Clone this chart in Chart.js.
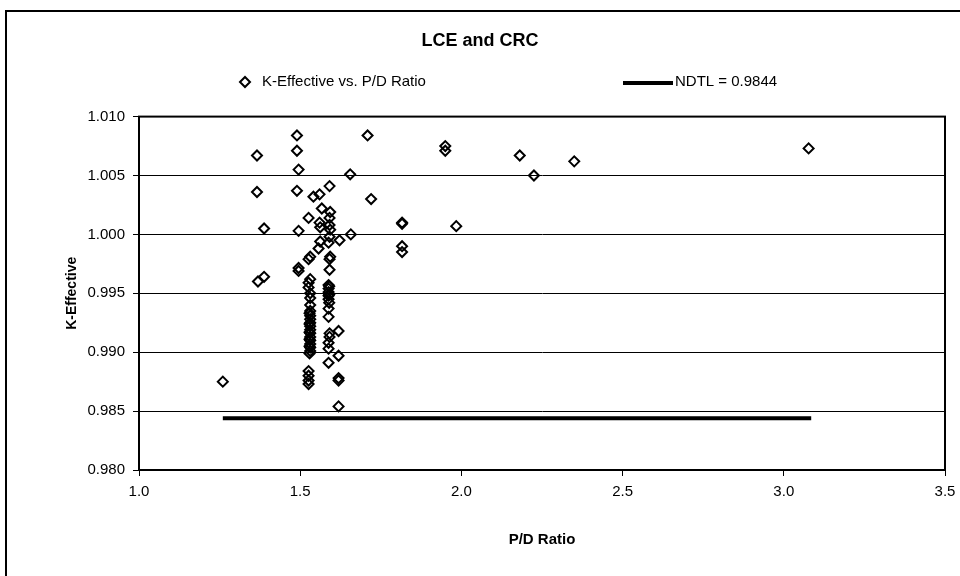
<!DOCTYPE html>
<html>
<head>
<meta charset="utf-8">
<title>LCE and CRC</title>
<script src="https://cdn.jsdelivr.net/npm/chart.js@4.4.0/dist/chart.umd.min.js"></script>
<style>
    html, body { margin: 0; padding: 0; background: #fff; overflow: hidden; }
    #marco { position: absolute; left: 5px; top: 10px; width: 1000px; height: 700px; border: 2px solid #000; box-sizing: border-box; }
    #lienzo { position: absolute; left: 0; top: 0; width: 960px; height: 576px; }
</style>
</head>
<body>
<div id="marco"></div>
<div id="lienzo"><canvas id="graficoLce"></canvas></div>
<script>
// Datos (P/D vs K-efectiva)
const pdRatio = [
    1.26, 1.366, 1.366, 1.388, 1.369, 1.388,
    1.49, 1.49, 1.495, 1.49, 1.495, 1.495, 1.495,
    1.526, 1.531, 1.526, 1.531, 1.526, 1.526, 1.531, 1.531, 1.531, 1.531, 1.531, 1.531,
    1.531, 1.531, 1.531, 1.531, 1.531, 1.531, 1.531, 1.531, 1.531,
    1.529, 1.529, 1.529, 1.529, 1.529, 1.529,
    1.526, 1.526, 1.526, 1.526,
    1.541, 1.560, 1.567, 1.560, 1.562, 1.562, 1.557,
    1.591, 1.593, 1.591, 1.591, 1.593, 1.591, 1.588, 1.593, 1.591, 1.591,
    1.588, 1.588, 1.588, 1.588, 1.588, 1.588, 1.588, 1.591, 1.591, 1.588, 1.588, 1.588,
    1.590, 1.590, 1.590,
    1.619, 1.619, 1.619, 1.619, 1.619, 1.622,
    1.655, 1.657, 1.709, 1.720,
    1.816, 1.816, 1.816, 1.816,
    1.950, 1.950, 1.984, 2.181, 2.225, 2.350, 3.077
];
const kEffective = [
    0.9875, 1.0067, 1.0036, 1.0005, 0.9960, 0.9964,
    1.0084, 1.0071, 1.0055, 1.0037, 1.0003, 0.99715, 0.9969,
    1.0014, 0.9981, 0.9979, 0.9962, 0.9959, 0.9955, 0.9950, 0.9946, 0.9940, 0.9935, 0.9931, 0.9928,
    0.9925, 0.9922, 0.9919, 0.9916, 0.9913, 0.9910, 0.9907, 0.9904, 0.9901,
    0.9933, 0.9924, 0.9917, 0.9911, 0.9905, 0.9899,
    0.9884, 0.9880, 0.9876, 0.9873,
    1.0032, 1.0034, 1.0022, 1.0010, 1.0006, 0.9994, 0.9988,
    1.0041, 1.0019, 1.0014, 1.0008, 1.0004, 0.9998, 0.9993, 0.9981, 0.9979, 0.9970,
    0.9957, 0.9954, 0.9951, 0.9948, 0.9945, 0.9937, 0.9930, 0.9916, 0.9913, 0.9908, 0.9903, 0.9891,
    0.9956, 0.9949, 0.9942,
    0.9918, 0.9897, 0.9878, 0.9876, 0.9854, 0.9995,
    1.0051, 1.0000, 1.0084, 1.0030,
    1.0010, 1.0009, 0.9990, 0.9985,
    1.0075, 1.0071, 1.0007, 1.0067, 1.0050, 1.0062, 1.0073
];
const ndtlX = [1.26, 3.085];
const ndtlValor = 0.9844;
const xTicks = [1.0, 1.5, 2.0, 2.5, 3.0, 3.5];
const yTicks = [0.980, 0.985, 0.990, 0.995, 1.000, 1.005, 1.010];

const fuente = 'Arial, "Liberation Sans", sans-serif';

// Marco negro alrededor del área de trazado
const bordeArea = {
    id: 'bordeArea',
    beforeDatasetsDraw(chart) {
        const { ctx, chartArea: a } = chart;
        ctx.save();
        ctx.strokeStyle = '#000';
        ctx.lineWidth = 2;
        ctx.strokeRect(a.left, a.top, a.right - a.left, a.bottom - a.top);
        ctx.restore();
    }
};

// Leyenda dibujada a mano para imitar la de Excel
const leyendaManual = {
    id: 'leyendaManual',
    afterDraw(chart) {
        const ctx = chart.ctx;
        const ds = chart.data.datasets;
        const y = 82;
        ctx.save();
        ctx.strokeStyle = '#000';
        ctx.fillStyle = 'rgba(0,0,0,0)';
        ctx.lineWidth = 2;
        Chart.helpers.drawPoint(ctx, { pointStyle: 'rectRot', radius: 5, borderWidth: 2 }, 245, y);
        ctx.font = '15px ' + fuente;
        ctx.fillStyle = '#000';
        ctx.textBaseline = 'middle';
        ctx.textAlign = 'left';
        ctx.fillText(ds[0].label, 262, y);
        ctx.beginPath();
        ctx.lineWidth = 4;
        ctx.moveTo(623, y + 1);
        ctx.lineTo(673, y + 1);
        ctx.stroke();
        ctx.fillText(ds[1].label, 675, y);
        ctx.restore();
    }
};

const ctx = document.getElementById('graficoLce').getContext('2d');
const grafico = new Chart(ctx, {
    type: 'scatter',
    data: {
        datasets: [
            {
                label: 'K-Effective vs. P/D Ratio',
                data: pdRatio.map((x, i) => ({ x: x, y: kEffective[i] })),
                pointStyle: 'rectRot',
                pointRadius: 5,
                pointBorderWidth: 2,
                borderColor: '#000',
                backgroundColor: 'rgba(0,0,0,0)'
            },
            {
                type: 'line',
                label: 'NDTL = ' + ndtlValor,
                data: ndtlX.map(x => ({ x: x, y: ndtlValor })),
                borderColor: '#000',
                borderWidth: 4,
                pointRadius: 0,
                showLine: true
            }
        ]
    },
    options: {
        responsive: true,
        maintainAspectRatio: false,
        animation: false,
        layout: { padding: { top: 0, left: 0, right: 0, bottom: 0 } },
        plugins: {
            legend: { display: false },
            tooltip: { enabled: false },
            title: {
                display: true,
                text: 'LCE and CRC',
                color: '#000',
                font: { family: fuente, size: 18, weight: 'bold' },
                padding: { top: 30, bottom: 65 }
            }
        },
        scales: {
            x: {
                type: 'linear',
                min: 1.0,
                max: 3.5,
                afterBuildTicks: s => { s.ticks = xTicks.map(v => ({ value: v })); },
                afterFit: s => { s.height = 106; s.paddingRight = 15; },
                ticks: {
                    color: '#000',
                    font: { family: fuente, size: 15 },
                    padding: 7,
                    maxRotation: 0,
                    callback: v => Number(v).toFixed(1)
                },
                grid: { drawOnChartArea: false, drawTicks: true, tickLength: 6, color: '#000' },
                border: { color: '#000', width: 2 },
                title: {
                    display: true,
                    text: 'P/D Ratio',
                    color: '#000',
                    font: { family: fuente, size: 15, weight: 'bold' },
                    padding: { top: 0, bottom: 27 }
                }
            },
            y: {
                type: 'linear',
                min: 0.980,
                max: 1.010,
                afterBuildTicks: s => { s.ticks = yTicks.map(v => ({ value: v })); },
                afterFit: s => { s.width = 139; },
                ticks: {
                    color: '#000',
                    font: { family: fuente, size: 15 },
                    padding: 8,
                    callback: v => Number(v).toFixed(3)
                },
                grid: { color: '#000', lineWidth: 1, tickLength: 6 },
                border: { color: '#000', width: 2 },
                title: {
                    display: true,
                    text: 'K-Effective',
                    color: '#000',
                    font: { family: fuente, size: 14, weight: 'bold' },
                    padding: { top: 64, bottom: 0 }
                }
            }
        }
    },
    plugins: [bordeArea, leyendaManual]
});
</script>
</body>
</html>
